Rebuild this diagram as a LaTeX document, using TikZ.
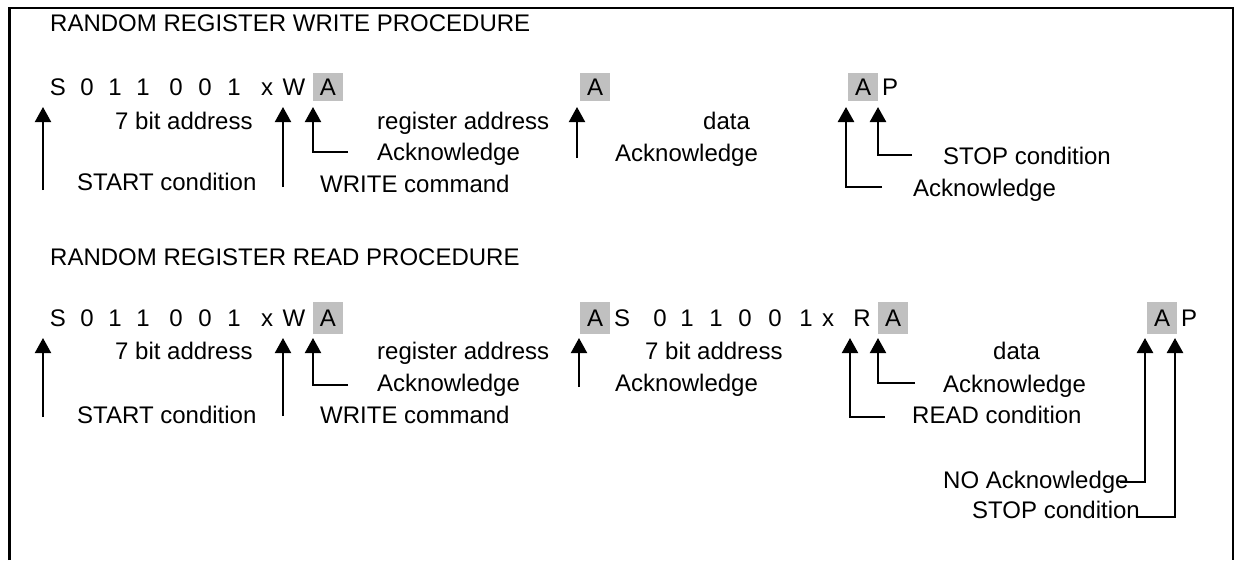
\documentclass[tikz,border=0pt]{standalone}
\usepackage{fontspec}
\setmainfont{Liberation Sans}
\usetikzlibrary{arrows.meta}
\definecolor{ackgrey}{RGB}{192,192,192}
\begin{document}
\begin{tikzpicture}[x=1pt,y=-1pt,
  txt/.style={anchor=base west,inner sep=0pt,font=\fontsize{24}{28}\selectfont},
  bit/.style={anchor=base,inner sep=0pt,font=\fontsize{24}{28}\selectfont},
  ackbox/.style={fill=ackgrey,draw=none,inner sep=0pt,minimum width=30pt,font=\fontsize{24}{28}\selectfont},
  ptr/.style={-{Triangle[width=16pt,length=15pt]},line width=2pt},
  ptrb/.style={ptr,line width=2.6pt}]
\useasboundingbox (0,0) rectangle (1235,560);
% frame (open at the bottom)
\coordinate (fl) at (9.5,560);
\coordinate (ftl) at (9.5,7.5);
\coordinate (ftr) at (1233,7.5);
\coordinate (fr) at (1233,560);
\draw[line width=3pt] (fl) -- (9.5,6.5);
\draw[line width=2pt] (8,7.5) -- (1234,7.5);
\draw[line width=2pt] (ftr) -- (fr);

% ================= WRITE =================
\node[txt] (t1) at (50,31) {RANDOM REGISTER WRITE PROCEDURE};
\foreach \c/\x [count=\i] in {S/58,0/87,1/115,1/143,0/176,0/205,1/234,x/267,W/294}
  \node[bit] (w\i) at (\x,95) {\c};
\node[ackbox,minimum height=28pt] (wa1) at (328,87) {A};
\node[ackbox,minimum height=28pt] (wa2) at (595,87) {A};
\node[ackbox,minimum height=28pt] (wa3) at (863,87) {A};
\node[bit] (wp) at (890,95) {P};

\node[txt] (wl1) at (115,129) {7 bit address};
\node[txt] (wl2) at (77,190) {START condition};
\node[txt] (wl3) at (377,129) {register address};
\node[txt] (wl4) at (377,160) {Acknowledge};
\node[txt] (wl5) at (320,192) {WRITE command};
\node[txt] (wl6) at (703,129) {data};
\node[txt] (wl7) at (615,161) {Acknowledge};
\node[txt] (wl8) at (943,164) {STOP condition};
\node[txt] (wl9) at (913,196) {Acknowledge};

\coordinate (ws0) at (43,190);   \coordinate (ws1) at (43,107);
\coordinate (ww0) at (283,187);  \coordinate (ww1) at (283,107);
\coordinate (wk0) at (348,152);  \coordinate (wk1) at (313,107);
\coordinate (wm0) at (577,158);  \coordinate (wm1) at (577,107);
\coordinate (wn0) at (882,187);  \coordinate (wn1) at (846,107);
\coordinate (wo0) at (912,155);  \coordinate (wo1) at (878,107);
\draw[ptr] (ws0) -- (ws1);
\draw[ptr] (ww0) -- (ww1);
\draw[ptr] (wk0) -| (wk1);
\draw[ptr] (wm0) -- (wm1);
\draw[ptrb] (wn0) -| (wn1);
\draw[ptrb] (wo0) -| (wo1);

% ================= READ =================
\node[txt] (t2) at (50,265) {RANDOM REGISTER READ PROCEDURE};
\foreach \c/\x [count=\i] in {S/58,0/87,1/115,1/143,0/176,0/205,1/234,x/267,W/294}
  \node[bit] (r\i) at (\x,326) {\c};
\node[ackbox,minimum height=32pt] (ra1) at (328,318) {A};
\node[ackbox,minimum height=32pt] (ra2) at (595,318) {A};
\foreach \c/\x [count=\i] in {S/622,0/660,1/687,1/716,0/745,0/775,1/806,x/828,R/862}
  \node[bit] (q\i) at (\x,326) {\c};
\node[ackbox,minimum height=32pt] (ra3) at (893,318) {A};
\node[ackbox,minimum height=32pt] (ra4) at (1162,318) {A};
\node[bit] (rp) at (1189,326) {P};

\node[txt] (rl1) at (115,359) {7 bit address};
\node[txt] (rl2) at (377,359) {register address};
\node[txt] (rl3) at (377,391) {Acknowledge};
\node[txt] (rl4) at (77,423) {START condition};
\node[txt] (rl5) at (320,423) {WRITE command};
\node[txt] (rl6) at (645,359) {7 bit address};
\node[txt] (rl7) at (615,391) {Acknowledge};
\node[txt] (rl8) at (993,359) {data};
\node[txt] (rl9) at (943,392) {Acknowledge};
\node[txt] (rl10) at (912,423) {READ condition};
\node[txt] (rl11) at (943,488) {NO Acknowledge};
\node[txt] (rl12) at (972,518) {STOP condition};

\coordinate (rs0) at (43,417);   \coordinate (rs1) at (43,338);
\coordinate (rw0) at (283,416);  \coordinate (rw1) at (283,338);
\coordinate (rk0) at (348,385);  \coordinate (rk1) at (313,338);
\coordinate (rm0) at (579,387);  \coordinate (rm1) at (579,338);
\coordinate (rr0) at (885,417);  \coordinate (rr1) at (850,338);
\coordinate (rn0) at (915,383);  \coordinate (rn1) at (878,338);
\coordinate (rx0) at (1120,482); \coordinate (rx1) at (1145,338);
\coordinate (ry0) at (1137,517); \coordinate (ry1) at (1175,338);
\draw[ptr] (rs0) -- (rs1);
\draw[ptr] (rw0) -- (rw1);
\draw[ptr] (rk0) -| (rk1);
\draw[ptr] (rm0) -- (rm1);
\draw[ptr] (rr0) -| (rr1);
\draw[ptr] (rn0) -| (rn1);
\draw[ptrb] (rx0) -| (rx1);
\draw[ptrb] (ry0) -| (ry1);
\end{tikzpicture}
\end{document}
